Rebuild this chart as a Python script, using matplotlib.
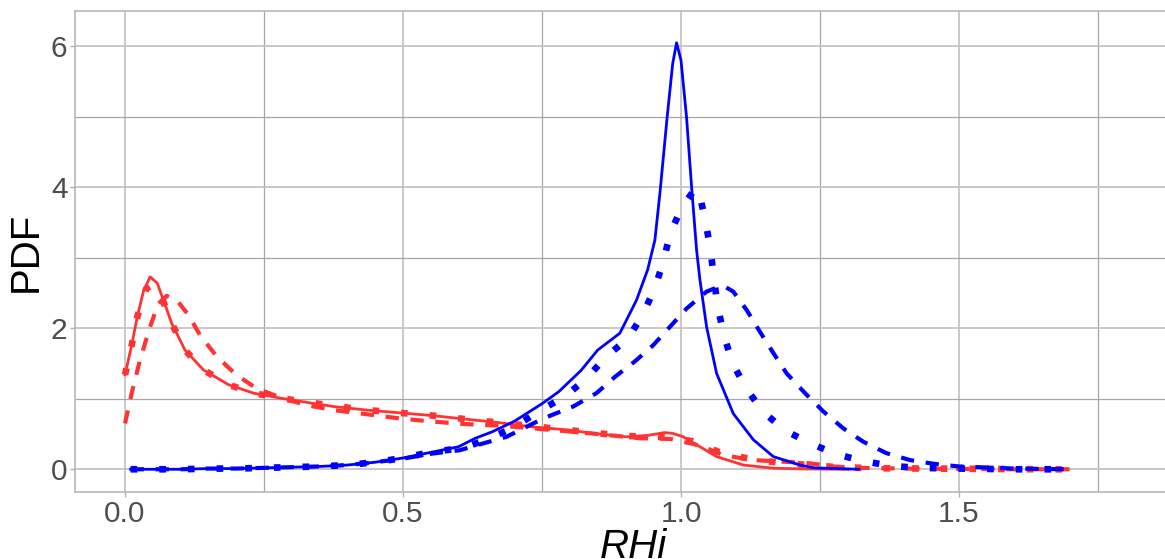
import matplotlib
matplotlib.use('Agg')
import matplotlib.pyplot as plt
from matplotlib.ticker import MultipleLocator

# Blue curves
blue_solid_x = [0.01, 0.05, 0.1, 0.15, 0.2, 0.25, 0.3, 0.35, 0.4, 0.45, 0.5, 0.55, 0.6, 0.63, 0.66, 0.7,
                0.75, 0.78, 0.82, 0.85, 0.89, 0.92, 0.94, 0.953, 0.962, 0.975, 0.985, 0.992, 1.0, 1.01,
                1.019, 1.028, 1.034, 1.046, 1.064, 1.094, 1.13, 1.166, 1.214, 1.24, 1.28, 1.32]
blue_solid_y = [0.0, 0.0, 0.0, 0.01, 0.01, 0.02, 0.03, 0.04, 0.06, 0.1, 0.16, 0.24, 0.32, 0.44, 0.53, 0.68,
                0.93, 1.1, 1.4, 1.69, 1.93, 2.4, 2.83, 3.25, 3.91, 4.99, 5.75, 6.05, 5.8, 4.99,
                4.01, 3.11, 2.69, 2.02, 1.36, 0.79, 0.42, 0.18, 0.06, 0.02, 0.01, 0.0]

blue_dot_x = [0.01, 0.05, 0.1, 0.15, 0.2, 0.25, 0.3, 0.35, 0.4, 0.45, 0.5, 0.554, 0.608, 0.656, 0.701,
              0.743, 0.791, 0.83, 0.866, 0.905, 0.931, 0.953, 0.968, 0.981, 1.002, 1.02, 1.031, 1.044,
              1.053, 1.059, 1.066, 1.077, 1.093, 1.117, 1.147, 1.187, 1.232, 1.277, 1.325, 1.376,
              1.424, 1.5, 1.6, 1.69]
blue_dot_y = [0.0, 0.0, 0.0, 0.01, 0.01, 0.02, 0.03, 0.04, 0.06, 0.1, 0.16, 0.25, 0.30, 0.44, 0.60,
              0.82, 1.03, 1.29, 1.60, 1.86, 2.19, 2.57, 2.94, 3.36, 3.72, 3.92, 3.98, 3.52,
              3.12, 2.72, 2.31, 1.90, 1.50, 1.15, 0.82, 0.55, 0.37, 0.22, 0.12, 0.05,
              0.02, 0.01, 0.0, 0.0]

blue_dash_x = [0.01, 0.05, 0.1, 0.15, 0.2, 0.25, 0.3, 0.35, 0.4, 0.45, 0.5, 0.55, 0.602, 0.641, 0.686,
               0.752, 0.806, 0.848, 0.881, 0.917, 0.95, 0.98, 1.01, 1.046, 1.065, 1.079, 1.094, 1.118,
               1.142, 1.166, 1.19, 1.223, 1.256, 1.292, 1.328, 1.369, 1.412, 1.457, 1.5, 1.6, 1.69]
blue_dash_y = [0.0, 0.0, 0.0, 0.01, 0.01, 0.02, 0.03, 0.04, 0.06, 0.1, 0.15, 0.22, 0.27, 0.36, 0.46,
               0.72, 0.89, 1.08, 1.31, 1.53, 1.76, 2.02, 2.28, 2.52, 2.58, 2.59, 2.52, 2.26,
               1.95, 1.65, 1.36, 1.08, 0.82, 0.58, 0.39, 0.23, 0.13, 0.075, 0.04, 0.01, 0.0]

# Red curves
red_solid_x = [0.0, 0.012, 0.022, 0.033, 0.045, 0.058, 0.069, 0.084, 0.108, 0.141, 0.186, 0.231, 0.279,
               0.33, 0.375, 0.435, 0.495, 0.555, 0.614, 0.674, 0.734, 0.794, 0.842, 0.902, 0.94, 0.97,
               0.985, 1.004, 1.034, 1.064, 1.112, 1.166, 1.22, 1.3]
red_solid_y = [1.34, 1.76, 2.16, 2.52, 2.73, 2.64, 2.40, 2.07, 1.69, 1.41, 1.20, 1.08, 1.01,
               0.945, 0.89, 0.84, 0.80, 0.76, 0.71, 0.66, 0.60, 0.56, 0.51, 0.46, 0.48, 0.52,
               0.51, 0.46, 0.32, 0.18, 0.06, 0.015, 0.005, 0.0]

red_dash_x = [0.0, 0.012, 0.027, 0.045, 0.06, 0.075, 0.093, 0.114, 0.135, 0.165, 0.2, 0.236, 0.279,
              0.326, 0.375, 0.435, 0.495, 0.555, 0.614, 0.674, 0.734, 0.794, 0.85, 0.926, 0.98, 1.022,
              1.046, 1.076, 1.13, 1.178, 1.226, 1.274, 1.32, 1.4, 1.5, 1.6, 1.712]
red_dash_y = [0.65, 1.08, 1.55, 2.02, 2.35, 2.46, 2.40, 2.19, 1.90, 1.60, 1.34, 1.15, 1.02,
              0.91, 0.84, 0.78, 0.72, 0.675, 0.64, 0.62, 0.58, 0.54, 0.50, 0.44, 0.43, 0.36,
              0.30, 0.20, 0.13, 0.11, 0.09, 0.04, 0.02, 0.01, 0.005, 0.0, 0.0]

red_dot_x = [0.0, 0.012, 0.022, 0.038, 0.05, 0.066, 0.084, 0.108, 0.141, 0.186, 0.231, 0.279, 0.33,
             0.375, 0.435, 0.495, 0.555, 0.614, 0.674, 0.734, 0.794, 0.85, 0.91, 0.97, 1.02, 1.076,
             1.13, 1.18, 1.23, 1.28, 1.35, 1.45, 1.55, 1.65, 1.7]
red_dot_y = [1.34, 1.76, 2.16, 2.56, 2.62, 2.44, 2.07, 1.69, 1.41, 1.20, 1.08, 1.01, 0.95,
             0.90, 0.84, 0.80, 0.76, 0.71, 0.66, 0.61, 0.56, 0.51, 0.47, 0.46, 0.40, 0.22,
             0.14, 0.09, 0.06, 0.03, 0.015, 0.01, 0.005, 0.0, 0.0]

x_ticks = [0.0, 0.5, 1.0, 1.5]
y_ticks = [0, 2, 4, 6]

RED = '#ff3333'
BLUE = '#0000ff'

plt.rcParams['font.family'] = ['Liberation Sans', 'DejaVu Sans']

fig = plt.figure(figsize=(11.65, 5.59), dpi=100)
ax = fig.add_axes([0.0644, 0.1199, 0.9356, 0.8604])

dash = (0, (3.2, 2.8))
dot = (0, (1, 3.3))

ax.plot(red_solid_x, red_solid_y, color=RED, lw=2.0)
ax.plot(red_dash_x, red_dash_y, color=RED, lw=3.0, linestyle=dash)
ax.plot(red_dot_x, red_dot_y, color=RED, lw=4.8, linestyle=dot, dash_capstyle='butt')
ax.plot(blue_solid_x, blue_solid_y, color=BLUE, lw=2.0)
ax.plot(blue_dash_x, blue_dash_y, color=BLUE, lw=3.0, linestyle=dash)
ax.plot(blue_dot_x, blue_dot_y, color=BLUE, lw=4.8, linestyle=dot, dash_capstyle='butt')

ax.set_xlim(-0.0899, 1.8705)
ax.set_ylim(-0.322, 6.5)
ax.set_xticks(x_ticks)
ax.set_xticklabels(['0.0', '0.5', '1.0', '1.5'])
ax.set_yticks(y_ticks)
ax.xaxis.set_minor_locator(MultipleLocator(0.25))
ax.yaxis.set_minor_locator(MultipleLocator(1))

ax.grid(which='major', color='#c4c4c4', lw=1.3)
ax.grid(which='minor', color='#a6a6a6', lw=0.9)
ax.set_axisbelow(True)

for side in ['left', 'bottom', 'top']:
    ax.spines[side].set_color('#b8b8b8')
    ax.spines[side].set_linewidth(1.2)
ax.spines['right'].set_visible(False)

ax.tick_params(which='major', length=3.5, width=1, color='#b0b0b0', labelsize=21.5,
               labelcolor='#4d4d4d', pad=2)
ax.tick_params(which='minor', length=0)

ax.set_ylabel('PDF', fontsize=29, labelpad=4)
ax.set_xlabel('RHi', fontsize=29, style='italic')
ax.xaxis.set_label_coords(0.512, -0.074, transform=ax.transAxes)
ax.xaxis.label.set_va('top')

fig.savefig('out.png', dpi=100)
